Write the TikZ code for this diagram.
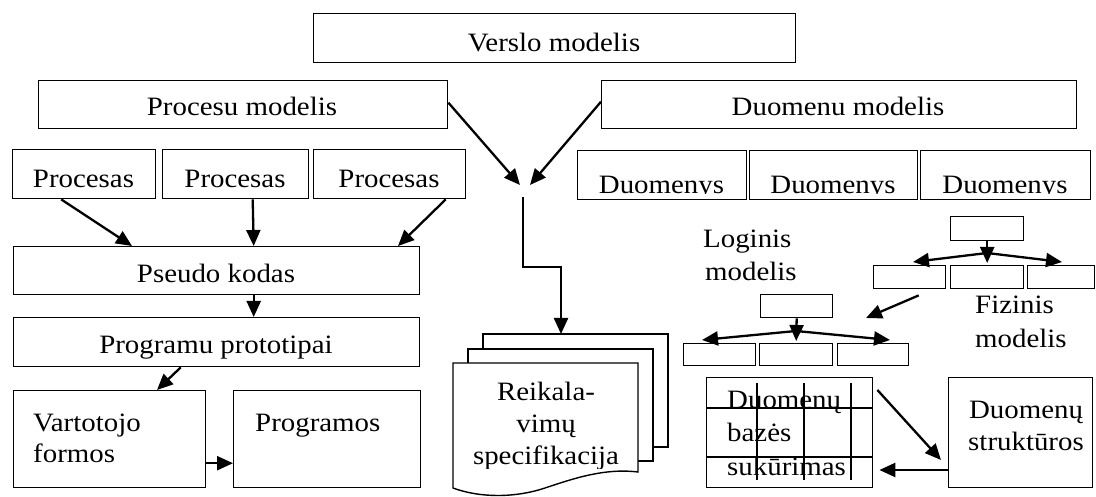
\documentclass[tikz,border=0pt]{standalone}
\usepackage{fontspec}
\setmainfont{Liberation Serif}[FakeStretch=1.09]
\usetikzlibrary{arrows.meta}
\newcommand\mybox[5]{\node[box, anchor=north west, minimum width={(#4)-(#2)}, minimum height={(#5)-(#3)}] (#1) at (#2,#3) {};}
\begin{document}
\begin{tikzpicture}[x=1pt,y=-1pt,
  box/.style={draw, line width=1.4pt, inner sep=0pt, fill=white},
  txt/.style={inner sep=0pt, anchor=base, font=\fontsize{26.5}{30}\selectfont},
  txtl/.style={txt, anchor=base west},
  arr/.style={line width=2.3pt, -{Triangle[length=16pt,width=14pt]}},
  grid/.style={line width=1.4pt}]
\useasboundingbox (0,0) rectangle (1096,497);

% top
\mybox{vm}{313}{13}{795}{62}
\node[txt] (vmt) at (554,52) {Verslo modelis};
\mybox{pm}{38}{80}{447}{128}
\node[txt] (pmt) at (242,116) {Procesu modelis};
\mybox{dm}{601}{80}{1076}{128}
\node[txt] (dmt) at (838,116) {Duomenu modelis};

% process row
\mybox{p1}{12}{149}{155}{198}
\mybox{p2}{162}{149}{308}{198}
\mybox{p3}{313}{149}{465}{198}
\node[txt] (p1t) at (83.5,188) {Procesas};
\node[txt] (p2t) at (235,188) {Procesas};
\node[txt] (p3t) at (389,188) {Procesas};

% data row
\mybox{d1}{577}{150}{746}{199}
\mybox{d2}{749}{150}{917}{199}
\mybox{d3}{920}{150}{1090}{199}
\begin{scope}
\clip (577,150) rectangle (1090,194);
\node[txt] (d1t) at (661.5,193.5) {Duomenys};
\node[txt] (d2t) at (833,193.5) {Duomenys};
\node[txt] (d3t) at (1005,193.5) {Duomenys};
\end{scope}

% left column
\mybox{ps}{13}{246}{419}{294}
\node[txt] (pst) at (216,283) {Pseudo kodas};
\mybox{pp}{13}{317}{419}{366}
\begin{scope}
\clip (13,317) rectangle (419,358);
\node[txt] (ppt) at (216,353) {Programu prototipai};
\end{scope}
\mybox{vf}{13}{390}{205}{487}
\node[txtl] (vft1) at (33,431) {Vartotojo};
\node[txtl] (vft2) at (33,462) {formos};
\mybox{pg}{233}{390}{420}{487}
\node[txtl] (pgt) at (255,431) {Programos};

\draw[arr] ([xshift=-23pt]p1.south) -- (132,246);
\draw[arr] ([xshift=17pt]p2.south) -- ([xshift=37pt]ps.north);
\draw[arr] ([xshift=56pt]p3.south) -- (398,246);
\draw[arr] ([xshift=37pt]ps.south) -- ([xshift=37pt]pp.north);
\draw[arr] ([xshift=-36pt]pp.south) -- (157,390);
\draw[arr] ([yshift=-24pt]vf.east) -- ([yshift=-24pt]pg.west);

% middle: requirements
\coordinate (ja) at (520,185);
\coordinate (jb) at (530,185);
\coordinate (jc) at (523,197);
\draw[arr] ([yshift=2pt]pm.east) -- (ja);
\draw[arr] ([yshift=3pt]dm.west) -- (jb);

\draw[box] (483,334) rectangle (668,447);
\draw[box] (468,349) rectangle (653,461);
\draw[box] (453,363) -- (638,363) -- (638,472)
  .. controls (605,468) and (575,478) .. (545,488)
  .. controls (515,498) and (480,498) .. (453,488) -- cycle;
\node[txt] (rs1) at (546,400) {Reikala-};
\node[txt] (rs2) at (546,432) {vimų};
\begin{scope}
\clip (455,440) rectangle (636,468);
\node[txt] (rs3) at (546,464) {specifikacija};
\end{scope}
\coordinate (doctop) at (561,334);
\draw[arr] (jc) -- (523,267) -- (561,267) -- (doctop);

% physical model tree
\mybox{ft}{950}{216}{1023}{240}
\mybox{f1}{873}{265}{945}{288}
\mybox{f2}{950}{265}{1023}{288}
\mybox{f3}{1027}{265}{1094}{288}
\coordinate (fj) at (987,253);
\draw[arr] (ft.south) -- ([yshift=2pt]f2.north);
\draw[arr] (fj) -- (913,262);
\draw[arr] (fj) -- (1062,262);
\node[txtl] (fz1) at (975,313) {Fizinis};
\node[txtl] (fz2) at (975,348) {modelis};

% logical model tree
\node[txtl] (lg1) at (703,248) {Loginis};
\node[txtl] (lg2) at (705,281) {modelis};
\mybox{lt}{760}{294}{832}{317}
\mybox{l1}{683}{343}{755}{365}
\mybox{l2}{759}{343}{832}{365}
\mybox{l3}{837}{343}{908}{365}
\coordinate (lj) at (796,331);
\draw[arr] (lt.south) -- ([yshift=2pt]l2.north);
\draw[arr] (lj) -- (702,340);
\draw[arr] (lj) -- (890,340);
\draw[arr] ([xshift=9pt,yshift=-6pt]f1.south) -- (866,318);

% database table
\mybox{db}{706}{377}{872}{487}
\node[txtl] (db1) at (727,408) {Duomenų};
\node[txtl] (db2) at (727,441) {bazės};
\node[txtl] (db3) at (727,475) {sukūrimas};
\draw[grid] (706,408) -- (872,408);
\draw[grid] (706,457) -- (872,457);
\draw[grid] (757,383) -- (757,480);
\draw[grid] (804,383) -- (804,480);
\draw[grid] (851,383) -- (851,480);

\mybox{ds}{948}{377}{1092}{487}
\node[txt] (ds1) at (1026,418) {Duomenų};
\node[txt] (ds2) at (1026,450) {struktūros};

\draw[arr] ([xshift=4pt,yshift=-13pt]db.north east) -- ([xshift=-7pt,yshift=-83pt]ds.north west);
\draw[arr] ([yshift=-93pt]ds.north west) -- ([xshift=6pt,yshift=-93pt]db.north east);
\end{tikzpicture}
\end{document}
